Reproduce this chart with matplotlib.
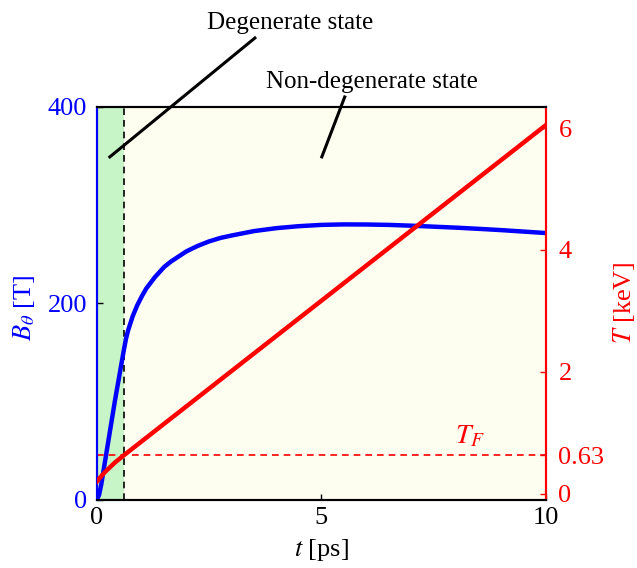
import matplotlib
matplotlib.use("Agg")
import matplotlib.pyplot as plt

plt.rcParams["font.family"] = ["Liberation Serif", "DejaVu Serif"]
plt.rcParams["mathtext.fontset"] = "stix"

# Magnetic field B_theta [T] versus time t [ps]
t_B = [0, 0.05, 0.1, 0.2, 0.3, 0.4, 0.5, 0.6, 0.65, 0.7, 0.8, 0.9, 1.0, 1.1,
       1.2, 1.3, 1.4, 1.5, 1.65, 1.8, 2.0, 2.25, 2.5, 2.75, 3.0, 3.5, 4.0,
       4.5, 5.0, 5.5, 6.0, 6.5, 7.0, 7.5, 8.0, 8.5, 9.0, 9.5, 10.0]
B_theta = [0, 5, 16, 44, 72, 100, 126, 152, 164, 173, 187, 198, 207, 215,
           221, 227, 232, 237, 242.5, 247, 253, 258.5, 263, 266.5, 269,
           273.5, 276.5, 278.5, 279.8, 280.3, 280.2, 279.8, 279, 278,
           277, 275.8, 274.5, 273, 271.5]

# Temperature T [keV] versus time t [ps]
t_T = [0, 0.1, 0.2, 0.3, 0.4, 0.5, 0.6, 10.0]
T_keV = [0.2, 0.29, 0.37, 0.44, 0.51, 0.57, 0.63, 6.05]

t_switch = 0.6     # degenerate / non-degenerate boundary [ps]
T_F = 0.63         # Fermi temperature [keV]

x_ticks = [0, 5, 10]
left_ticks = [0, 200, 400]
right_ticks = [0, 0.63, 2, 4, 6]
right_tick_labels = ["0", "0.63", "2", "4", "6"]

fig = plt.figure(figsize=(6.37, 5.68), dpi=100)
ax = fig.add_axes([0.152, 0.12, 0.705, 0.692])
ax2 = ax.twinx()

ax.set_facecolor("#fefef0")
ax.axvspan(0, t_switch, color="#c8f5c8", zorder=0, lw=0)
ax.axvline(t_switch, color="black", ls=(0, (4, 3)), lw=1.2, zorder=1)

ax.plot(t_B, B_theta, color="blue", lw=3.2, zorder=3,
        solid_joinstyle="round")
ax.set_xlim(0, 10)
ax.set_ylim(0, 400)
ax.set_xticks(x_ticks)
ax.set_yticks(left_ticks)
ax.tick_params(axis="both", direction="in", length=4, width=1,
               labelsize=19, pad=7)
ax.tick_params(axis="x", pad=5)
ax.tick_params(axis="y", labelcolor="blue")
ax.set_xlabel(r"$t$ [ps]", fontsize=19, labelpad=6)

ax2.plot(t_T, T_keV, color="red", lw=3.2, zorder=3)
ax2.axhline(T_F, color="red", ls=(0, (4, 3)), lw=1.2)
ax2.text(8.3, T_F + 0.1, r"$T_F$", color="red", fontsize=20,
         ha="center", va="bottom")
ax2.set_ylim(-0.1, 6.35)
ax2.set_yticks(right_ticks)
ax2.set_yticklabels(right_tick_labels)
ax2.tick_params(axis="y", direction="in", length=4, width=1,
                labelsize=19, colors="red", pad=9)

# Axis titles placed in figure coordinates
fig.text(24 / 637, 1 - 308 / 568, r"$B_\theta$ [T]", fontsize=19,
         color="blue", rotation=90, ha="center", va="center")
fig.text(624 / 637, 1 - 303 / 568, r"$T$ [keV]", fontsize=19,
         color="red", rotation=90, ha="center", va="center")

for a in (ax, ax2):
    a.spines["left"].set_color("blue")
    a.spines["right"].set_color("red")
    a.spines["top"].set_color("black")
    a.spines["bottom"].set_color("black")
    for s in a.spines.values():
        s.set_linewidth(1.5)

# State annotations with leader lines
ax.plot([0.29, 3.52], [349, 470], color="black", lw=2.2, clip_on=False, zorder=5)
ax.text(4.3, 485, "Degenerate state", fontsize=18, ha="center", va="center")
ax.plot([5.01, 5.52], [349, 410], color="black", lw=2.2, clip_on=False, zorder=5)
ax.text(6.12, 425, "Non-degenerate state", fontsize=18, ha="center", va="center")

fig.savefig("out.png", dpi=100)
